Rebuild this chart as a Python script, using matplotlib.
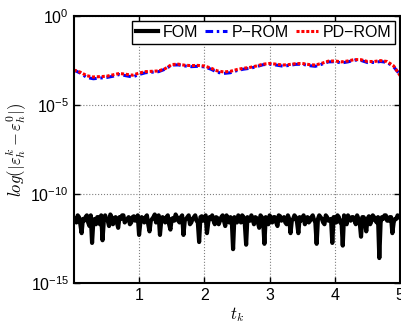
import numpy as np
import matplotlib
matplotlib.use('Agg')
import matplotlib.pyplot as plt
from matplotlib.ticker import FixedLocator, NullLocator

plt.rcParams['font.family'] = ['Liberation Sans', 'DejaVu Sans']
plt.rcParams['mathtext.fontset'] = 'cm'

# ROM error curves (log10 values), sampled every 0.1 in t
t_rom = np.arange(51) * 0.1
pd_rom_log = [-3.03, -3.15, -3.35, -3.42, -3.40, -3.38, -3.30, -3.22, -3.27, -3.32,
              -3.20, -3.12, -3.10, -3.08, -2.95, -2.72, -2.70, -2.76, -2.78, -2.77,
              -2.80, -2.92, -3.08, -3.14, -3.10, -3.00, -2.93, -2.88, -2.80, -2.70,
              -2.66, -2.70, -2.75, -2.72, -2.67, -2.66, -2.72, -2.75, -2.65, -2.53,
              -2.52, -2.57, -2.52, -2.44, -2.45, -2.55, -2.55, -2.50, -2.55, -2.80,
              -3.35]
p_rom_log = [-3.03, -3.20, -3.45, -3.52, -3.48, -3.45, -3.38, -3.28, -3.35, -3.42,
             -3.28, -3.18, -3.15, -3.12, -2.98, -2.75, -2.74, -2.80, -2.84, -2.82,
             -2.85, -2.98, -3.16, -3.22, -3.18, -3.06, -2.98, -2.93, -2.84, -2.73,
             -2.70, -2.75, -2.81, -2.77, -2.71, -2.70, -2.78, -2.82, -2.70, -2.57,
             -2.56, -2.63, -2.57, -2.47, -2.49, -2.61, -2.60, -2.55, -2.60, -2.85,
             -3.30]

# FOM error (log10 values), sampled every 0.04 in t, plus readings in between
t_fom = np.arange(126) * 0.04
fom_log = [-11.35, -11.6, -11.3, -12.2, -11.5, -11.2, -11.8, -12.75, -11.4, -11.3,
           -11.7, -12.6, -11.2, -11.5, -11.15, -11.7, -11.3, -11.9, -11.4, -11.2,
           -11.5, -11.3, -11.6, -11.25, -11.45, -12.3, -11.3, -11.6, -11.2, -12.1,
           -11.4, -11.15, -11.5, -12.3, -11.3, -11.6, -11.2, -12.0, -11.35, -11.15,
           -11.5, -11.3, -12.3, -11.4, -11.2, -11.6, -11.3, -11.5, -12.7, -11.25,
           -11.4, -12.2, -11.3, -11.2, -11.7, -11.35, -11.5, -11.2, -11.8, -11.4,
           -11.3, -13.1, -11.4, -11.2, -11.6, -11.3, -12.85, -11.4, -11.2, -11.7,
           -11.35, -11.9, -11.3, -12.8, -11.4, -11.2, -11.6, -11.3, -11.8, -11.25,
           -11.4, -11.6, -11.2, -12.2, -11.4, -11.3, -12.2, -11.5, -11.2, -11.35,
           -11.6, -11.3, -11.45, -12.8, -11.2, -11.4, -11.7, -11.3, -11.5, -12.75,
           -11.3, -11.2, -11.6, -12.9, -11.4, -11.2, -11.5, -11.3, -11.7, -11.4,
           -12.4, -11.3, -12.1, -11.25, -11.5, -11.3, -11.6, -13.6, -11.3, -11.2,
           -11.5, -11.3, -12.2, -11.4, -11.2, -11.35]
t_fom_mid = np.arange(125) * 0.04 + 0.02
fom_log_mid = [-11.5, -11.2, -11.7, -11.4, -11.3, -11.6, -11.2, -11.5, -11.7, -11.3,
               -11.2, -11.5, -11.4, -11.8, -11.3, -11.5, -11.6, -11.3, -11.2, -11.6,
               -11.4, -11.7, -11.3, -11.5, -11.2, -11.6, -11.4, -11.3, -11.7, -11.5,
               -11.3, -11.6, -11.2, -11.5, -11.4, -11.3, -11.7, -11.4, -11.5, -11.3,
               -11.6, -11.2, -11.5, -11.3, -11.7, -11.4, -11.2, -11.6, -11.3, -11.5,
               -11.2, -11.6, -11.4, -11.5, -11.3, -11.7, -11.3, -11.5, -11.2, -11.6,
               -11.5, -11.3, -11.6, -11.4, -11.2, -11.7, -11.3, -11.5, -11.4, -11.3,
               -11.6, -11.2, -11.5, -11.3, -11.7, -11.4, -11.3, -11.6, -11.2, -11.5,
               -11.3, -11.7, -11.4, -11.5, -11.2, -11.6, -11.3, -11.4, -11.7, -11.3,
               -11.5, -11.2, -11.6, -11.4, -11.3, -11.6, -11.2, -11.5, -11.4, -11.3,
               -11.6, -11.3, -11.5, -11.2, -11.7, -11.4, -11.3, -11.5, -11.2, -11.6,
               -11.3, -11.5, -11.4, -11.7, -11.2, -11.5, -11.3, -11.6, -11.4, -11.2,
               -11.5, -11.3, -11.6, -11.4, -11.3]

x_ticks = [1, 2, 3, 4, 5]
y_ticks = [1e-15, 1e-10, 1e-5, 1e0]

t_all = np.concatenate([t_fom, t_fom_mid])
f_all = np.concatenate([fom_log, fom_log_mid])
order = np.argsort(t_all)

fig = plt.figure(figsize=(4.01, 3.23), dpi=100)
ax = fig.add_axes([0.184, 0.124, 0.814, 0.826])

ax.semilogy(t_all[order], 10.0 ** f_all[order], color='black', lw=3, label='FOM')
ax.semilogy(t_rom, 10.0 ** np.array(p_rom_log), color='blue', lw=2.2,
            ls=(0, (2.5, 1.2, 0.8, 1.2)), label='P\u2212ROM')
ax.semilogy(t_rom, 10.0 ** np.array(pd_rom_log), color='red', lw=2.2,
            ls=(0, (1, 0.6)), label='PD\u2212ROM')

ax.set_xlim(0, 5)
ax.set_ylim(1e-15, 1e0)
ax.xaxis.set_major_locator(FixedLocator(x_ticks))
ax.yaxis.set_major_locator(FixedLocator(y_ticks))
ax.yaxis.set_minor_locator(NullLocator())
ax.tick_params(direction='in', top=True, right=True, labelsize=11.5, length=4, width=1)
for s in ax.spines.values():
    s.set_linewidth(1.5)
ax.grid(True, ls=':', color='0.5', lw=0.8)

ax.set_xlabel(r'$t_k$', fontsize=12, labelpad=2)
ax.set_ylabel(r'$log(|\varepsilon_h^k-\varepsilon_h^0|)$', fontsize=12, labelpad=2)

leg = ax.legend(loc='upper right', ncol=3, fontsize=11.5, handlelength=1.4,
                handletextpad=0.3, columnspacing=0.4, borderpad=0.25,
                borderaxespad=0.3, fancybox=False, framealpha=1)
leg.get_frame().set_edgecolor('black')
leg.get_frame().set_linewidth(1)

fig.savefig('out.png', dpi=100)
